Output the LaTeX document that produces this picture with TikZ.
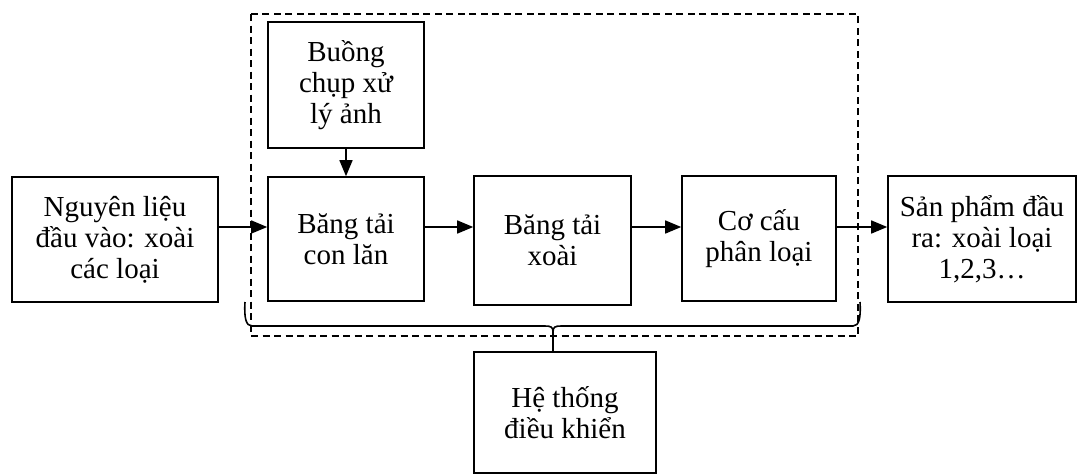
\documentclass[tikz,border=0pt]{standalone}
\usepackage{fontspec}
\setmainfont{Liberation Serif}
\usetikzlibrary{arrows.meta}
\begin{document}
\begin{tikzpicture}[x=1pt,y=-1pt,
  box/.style={draw,line width=1.6pt,align=center,inner sep=0pt,
    font=\fontsize{29}{31}\selectfont},
  conn/.style={line width=1.5pt,-{Triangle[length=16pt,width=13pt]}},
  frame/.style={line width=1.4pt,dash pattern=on 7pt off 4.5pt},
  brace/.style={line width=1.6pt}]
\useasboundingbox (0,0) rectangle (1086,475);
% dashed frame
\draw[frame] (251,14) rectangle (858,336);
% boxes
\node[box,minimum width=206pt,minimum height=125pt] (in) at (115,239.5) {Nguyên liệu\\đầu vào: xoài\\các loại};
\node[box,minimum width=156pt,minimum height=126pt] (cam) at (346,85) {Buồng\\chụp xử\\lý ảnh};
\node[box,minimum width=156pt,minimum height=124pt] (roll) at (346,239) {Băng tải\\con lăn};
\node[box,minimum width=157pt,minimum height=129pt] (belt) at (552.5,240.5) {Băng tải\\xoài};
\node[box,minimum width=154pt,minimum height=125pt] (sort) at (759,238.5) {Cơ cấu\\phân loại};
\node[box,minimum width=188pt,minimum height=126pt] (out) at (982,239) {Sản phẩm đầu\\ra: xoài loại\\1,2,3\dots};
\node[box,minimum width=182pt,minimum height=121pt] (ctrl) at (565,412.5) {Hệ thống\\điều khiển};
% arrows
\draw[conn] (in.east |- 0,227) -- (roll.west |- 0,227);
\draw[conn] (roll.east |- 0,227) -- (belt.west |- 0,227);
\draw[conn] (belt.east |- 0,227) -- (sort.west |- 0,227);
\draw[conn] (sort.east |- 0,227) -- (out.west |- 0,227);
\draw[conn] (cam.south) -- (roll.north);
% brace
\coordinate (bl) at (245,302);
\coordinate (br) at (860,302);
\coordinate (bm) at (553,332);
\draw[brace] (bl) .. controls (244,318) and (246,326) .. (252,326)
  -- (545,326) .. controls (551,326) and (553,327) .. (bm)
  .. controls (553,327) and (555,326) .. (561,326)
  -- (853,326) .. controls (859,326) and (861,318) .. (br);
\draw[brace] (bm) -- (bm |- ctrl.north);
\end{tikzpicture}
\end{document}
